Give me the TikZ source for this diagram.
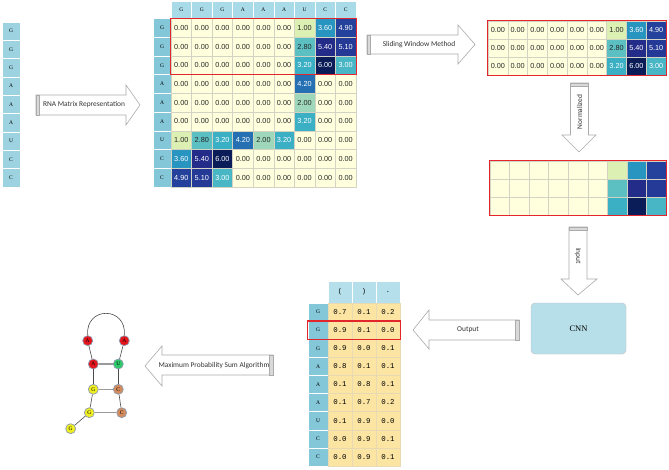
\documentclass[tikz,border=0pt]{standalone}
\usepackage{fontspec}
\setmainfont{Liberation Serif}
\newfontfamily\carlf{Carlito}
\newfontfamily\arialf{Liberation Sans}
\newfontfamily\monof{Liberation Mono}
\definecolor{cz}{HTML}{FFFFDD}
\definecolor{ca}{HTML}{DDF0B3}
\definecolor{cb}{HTML}{9ED7B9}
\definecolor{cc}{HTML}{5CBFC1}
\definecolor{cd}{HTML}{48B6C4}
\definecolor{ce}{HTML}{3BAFC3}
\definecolor{cf}{HTML}{2894C0}
\definecolor{cg}{HTML}{2470B3}
\definecolor{ch}{HTML}{24429B}
\definecolor{ci}{HTML}{253A97}
\definecolor{cj}{HTML}{232C88}
\definecolor{ck}{HTML}{0A1D58}
\definecolor{tz}{HTML}{262626}
\colorlet{ta}{tz}\colorlet{tb}{tz}\colorlet{tc}{tz}
\colorlet{td}{white}\colorlet{te}{white}\colorlet{tf}{white}\colorlet{tg}{white}
\colorlet{th}{white}\colorlet{ti}{white}\colorlet{tj}{white}\colorlet{tk}{white}
\def\mvalz{0.00}\def\mvala{1.00}\def\mvalb{2.00}\def\mvalc{2.80}
\def\mvald{3.00}\def\mvale{3.20}\def\mvalf{3.60}\def\mvalg{4.20}
\def\mvalh{4.90}\def\mvali{5.10}\def\mvalj{5.40}\def\mvalk{6.00}
\definecolor{gridc}{HTML}{D3D3C3}
\definecolor{hdrc}{HTML}{A8DAE7}
\definecolor{rhdc}{HTML}{84C7D9}
\definecolor{lcolc}{HTML}{9DD3E1}
\definecolor{outc}{HTML}{FCE4A2}
\definecolor{outgrid}{HTML}{E6D9B4}
\definecolor{redc}{HTML}{E3262B}
\definecolor{arrgray}{HTML}{ABABAB}
\definecolor{bandc}{HTML}{D9D9D9}
\definecolor{cnnc}{HTML}{B7DFEA}
\definecolor{rnred}{HTML}{E3161D}
\definecolor{rngreen}{HTML}{2FCB6A}
\definecolor{rnyellow}{HTML}{EEEE22}
\definecolor{rnorange}{HTML}{D58C5C}
\definecolor{rnedge}{HTML}{8E9BB0}
\tikzset{
  mcell/.style={draw=gridc, line width=0.4pt, inner sep=0pt, font=\arialf\fontsize{7.3}{8}\selectfont},
  hcell/.style={draw=white, line width=0.4pt, inner sep=0pt, fill=hdrc, font=\fontsize{5.5}{6}\selectfont},
  rcell/.style={draw=white, line width=0.4pt, inner sep=0pt, fill=rhdc, font=\fontsize{5.5}{6}\selectfont},
  lcell/.style={draw=white, line width=0.4pt, inner sep=0pt, fill=lcolc, font=\fontsize{5.5}{6}\selectfont},
  ocell/.style={draw=outgrid, line width=0.4pt, inner sep=0pt, fill=outc, minimum width=24pt, minimum height=18.1pt, font=\monof\fontsize{7.4}{8}\selectfont},
  redbox/.style={draw=redc, line width=1.2pt},
  barrow/.style={fill=white, draw=arrgray, line width=0.6pt, line join=miter},
  band/.style={fill=bandc, draw=arrgray, line width=0.5pt},
  alabel/.style={inner sep=0pt, font=\carlf\fontsize{7.4}{8}\selectfont, text=black!80},
  rn/.style={circle, draw=rnedge, line width=0.7pt, minimum size=10pt, inner sep=0pt, font=\fontsize{5.5}{5.5}\selectfont},
  bb/.style={draw=black!70, line width=0.6pt},
  bp/.style={draw=black!40, line width=1.3pt},
}
\begin{document}
\begin{tikzpicture}[x=1pt,y=-1pt]
\useasboundingbox (0,0) rectangle (669,469);
\fill[white] (0,0) rectangle (669,469);

% ---------- left sequence column
\foreach \l [count=\i] in {G,G,G,A,A,A,U,C,C}
  \node[lcell, minimum width=18pt, minimum height=18.33pt] (L\i) at (11, {22+(\i-0.5)*18.33}) {\l};

% ---------- main matrix
\foreach \l [count=\i] in {G,G,G,A,A,A,U,C,C}{
  \node[hcell, minimum width=20.55pt, minimum height=17pt] (H\i) at ({171+(\i-0.5)*20.55}, 10) {\l};
  \node[rcell, minimum width=18pt, minimum height=18.72pt] (R\i) at (162, {18.5+(\i-0.5)*18.72}) {\l};
}
\foreach \row [count=\r] in {{z,z,z,z,z,z,a,f,h},{z,z,z,z,z,z,c,j,i},{z,z,z,z,z,z,e,k,d},
  {z,z,z,z,z,z,g,z,z},{z,z,z,z,z,z,b,z,z},{z,z,z,z,z,z,e,z,z},
  {a,c,e,g,b,e,z,z,z},{f,j,k,z,z,z,z,z,z},{h,i,d,z,z,z,z,z,z}}{
  \foreach \v [count=\c] in \row {
    \node[mcell, fill=c\v, text=t\v, minimum width=20.55pt, minimum height=18.72pt]
      (M-\r-\c) at ({171+(\c-0.5)*20.55}, {18.5+(\r-0.5)*18.72}) {\csname mval\v\endcsname};
  }
}
\draw[redbox] (M-1-1.north west) rectangle (M-3-9.south east);

% ---------- window matrix (top right) and normalized matrix
\foreach \row [count=\r] in {{z,z,z,z,z,z,a,f,h},{z,z,z,z,z,z,c,j,i},{z,z,z,z,z,z,e,k,d}}{
  \foreach \v [count=\c] in \row {
    \node[mcell, fill=c\v, text=t\v, minimum width=19.78pt, minimum height=18pt]
      (T-\r-\c) at ({488+(\c-0.5)*19.78}, {21+(\r-0.5)*18}) {\csname mval\v\endcsname};
    \node[mcell, fill=c\v, minimum width=19.56pt, minimum height=18pt]
      (N-\r-\c) at ({490+(\c-0.5)*19.56}, {161+(\r-0.5)*18}) {};
  }
}
\draw[redbox] (T-1-1.north west) rectangle (T-3-9.south east);
\draw[redbox] (N-1-1.north west) rectangle (N-3-9.south east);

% ---------- block arrows
% RNA Matrix Representation
\draw[barrow] (36,95) -- (126,95) -- (126,85) -- (140,105) -- (126,125) -- (126,115) -- (36,115) -- cycle;
\draw[band] (36,95) rectangle (39.5,115);
\node[alabel] (lblrna) at (84,105) {RNA Matrix Representation};
% Sliding Window Method
\draw[barrow] (367,35) -- (458,35) -- (458,25) -- (475,44.5) -- (458,64) -- (458,54) -- (367,54) -- cycle;
\draw[band] (367,35) rectangle (370.5,54);
\node[alabel] (lblslide) at (419,44.5) {Sliding Window Method};
% Normalized
\draw[barrow] (570.5,83) -- (588.5,83) -- (588.5,135) -- (596,135) -- (579,152) -- (562,135) -- (570.5,135) -- cycle;
\draw[band] (570.5,83) rectangle (588.5,86.5);
\node[alabel, rotate=90] (lblnorm) at (579.5,112) {Normalized};
% Input
\draw[barrow] (569,227) -- (587,227) -- (587,279) -- (597,279) -- (578,295) -- (561,279) -- (569,279) -- cycle;
\draw[band] (569,227) rectangle (587,230.5);
\node[alabel, rotate=-90] (lblinput) at (578,256) {Input};
% Output
\draw[barrow] (519,320) -- (429,320) -- (429,310) -- (413,330) -- (429,349) -- (429,340) -- (519,340) -- cycle;
\draw[band] (515.5,320) rectangle (519,340);
\node[alabel] (lblout) at (468,330) {Output};
% Maximum Probability Sum Algorithm
\draw[barrow] (273,355) -- (162,355) -- (162,346) -- (145,366) -- (162,386) -- (162,375) -- (273,375) -- cycle;
\draw[band] (269.5,355) rectangle (273,375);
\node[alabel] (lblmax) at (214,365.5) {Maximum Probability Sum Algorithm};

% ---------- CNN
\node[draw=black!25, fill=cnnc, rounded corners=4pt, minimum width=95pt, minimum height=51pt,
  inner sep=0pt, font=\fontsize{8.5}{9}\selectfont] (cnn) at (578.5,328.5) {CNN};

% ---------- output table
\node[hcell, fill=hdrc!85!white, minimum width=24pt, minimum height=22pt, font=\monof\fontsize{7}{7}\selectfont] (OH1) at (340,292) {(};
\node[hcell, fill=hdrc!85!white, minimum width=24pt, minimum height=22pt, font=\monof\fontsize{7}{7}\selectfont] (OH2) at (364,292) {)};
\node[hcell, fill=hdrc!85!white, minimum width=24pt, minimum height=22pt, font=\monof\fontsize{7}{7}\selectfont] (OH3) at (388,292) {.};
\foreach \l/\a/\b/\c [count=\i] in {G/0.7/0.1/0.2, G/0.9/0.1/0.0, G/0.9/0.0/0.1, A/0.8/0.1/0.1,
  A/0.1/0.8/0.1, A/0.1/0.7/0.2, U/0.1/0.9/0.0, C/0.0/0.9/0.1, C/0.0/0.9/0.1}{
  \node[rcell, minimum width=20pt, minimum height=18.1pt] (O\i-0) at (318, {303+(\i-0.5)*18.1}) {\l};
  \node[ocell] (O\i-1) at (340, {303+(\i-0.5)*18.1}) {\a};
  \node[ocell] (O\i-2) at (364, {303+(\i-0.5)*18.1}) {\b};
  \node[ocell] (O\i-3) at (388, {303+(\i-0.5)*18.1}) {\c};
}
\draw[redbox] (O2-0.north west) rectangle (O2-3.south east);

% ---------- RNA secondary structure
\node[rn, fill=rnred] (s1) at (87.7,340.7) {A};
\node[rn, fill=rnred] (s2) at (124.3,340.7) {A};
\node[rn, fill=rnred] (s3) at (93.3,364) {A};
\node[rn, fill=rngreen] (s4) at (118.3,364) {U};
\node[rn, fill=rnyellow] (s5) at (93.3,389.3) {G};
\node[rn, fill=rnorange] (s6) at (118.3,389.3) {C};
\node[rn, fill=rnyellow] (s7) at (89.3,412.7) {G};
\node[rn, fill=rnorange] (s8) at (121.7,412.7) {C};
\node[rn, fill=rnyellow] (s9) at (70.7,428.7) {G};
\draw[bb] (s1.north) .. controls (85,306) and (127,306) .. (s2.north);
\draw[bb] (s1) -- (s3);
\draw[bb] (s2) -- (s4);
\draw[bb] (s3) -- (s5);
\draw[bb] (s4) -- (s6);
\draw[bb] (s5) -- (s7);
\draw[bb] (s6) -- (s8);
\draw[bb] (s7) -- (s9);
\draw[bp] (s3) -- (s4);
\draw[bp] (s5) -- (s6);
\draw[bp] (s7) -- (s8);
\end{tikzpicture}
\end{document}
